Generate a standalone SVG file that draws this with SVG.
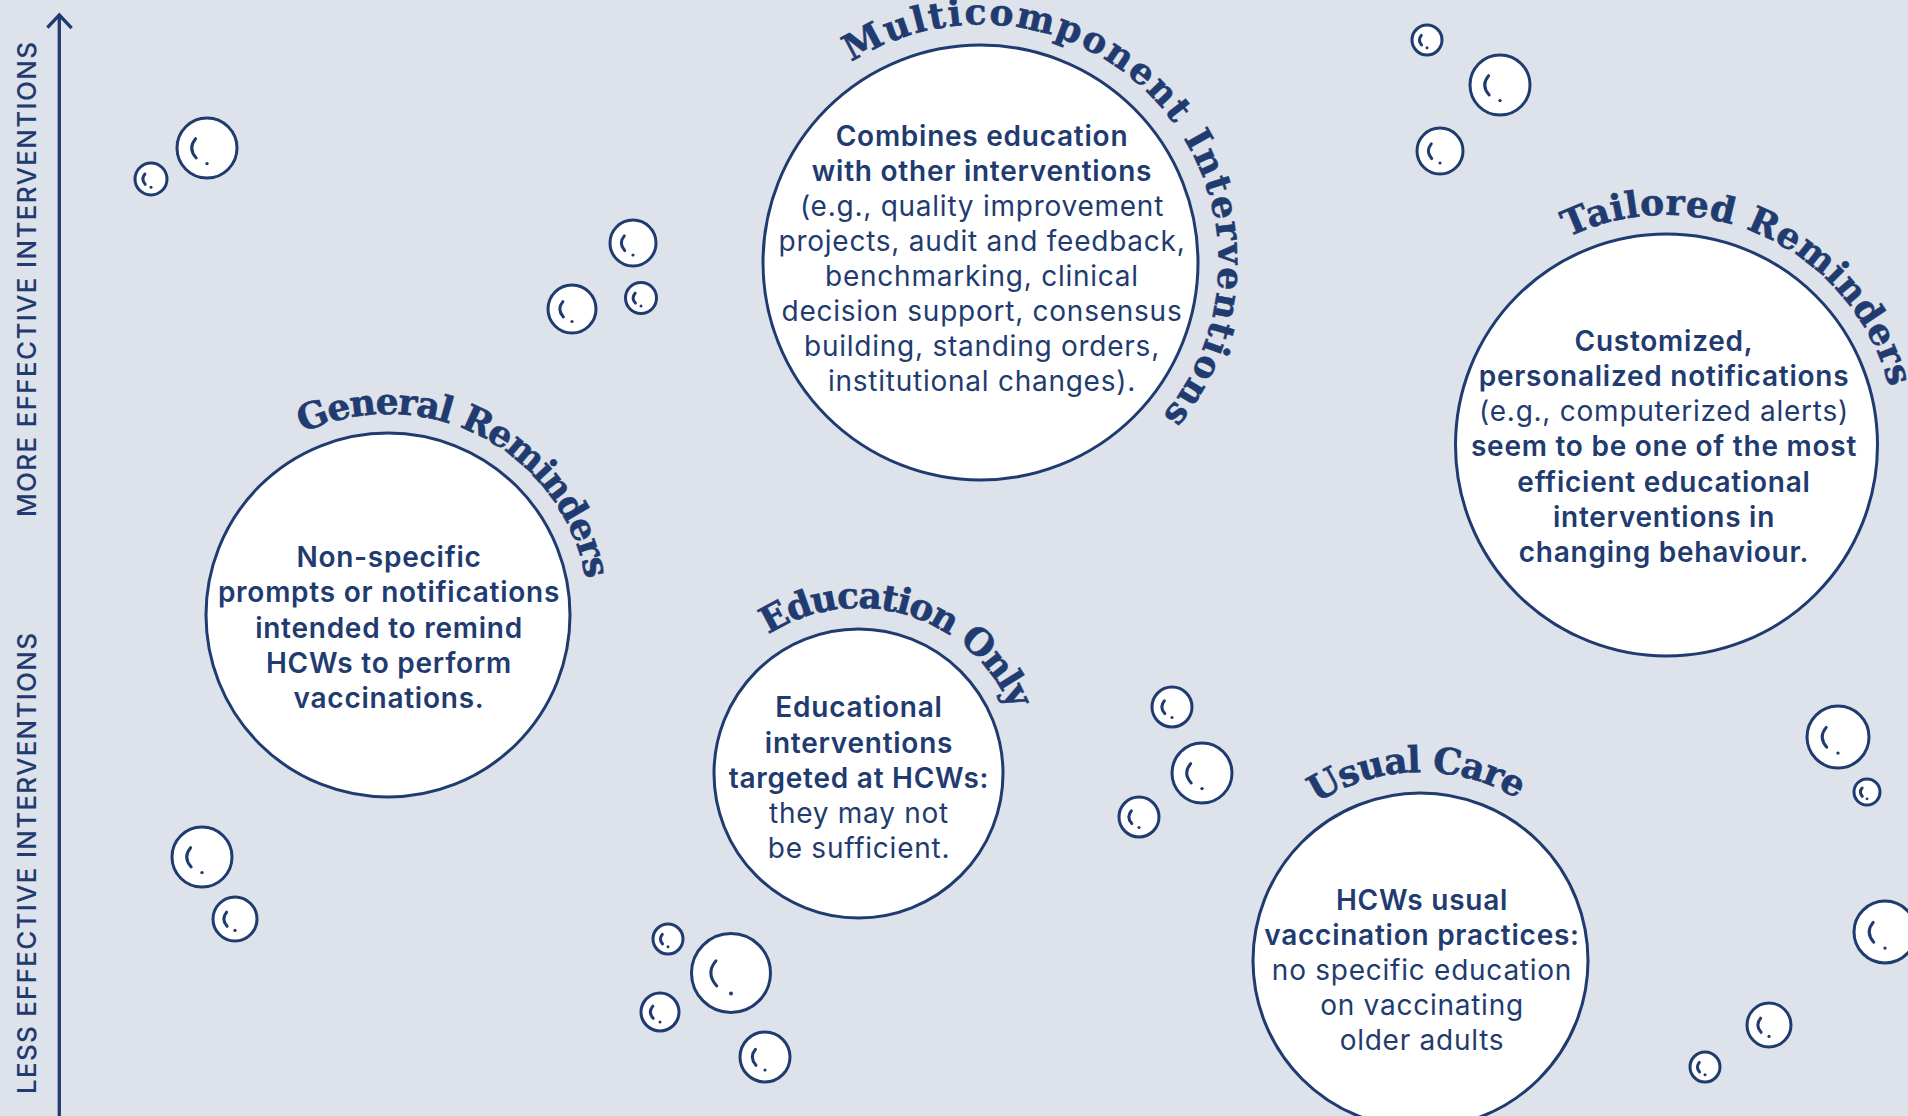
<svg xmlns="http://www.w3.org/2000/svg" width="1908" height="1116" viewBox="0 0 1908 1116">
<defs>
<style>
.bg{fill:#dde2eb}
.node{fill:#fff;stroke:#1f3b6f;stroke-width:3}
.bub{fill:#fff;stroke:#1f3b6f;stroke-width:3}
.hl{fill:none;stroke:#1f3b6f;stroke-width:3;stroke-linecap:round}
.dot{fill:#1f3b6f}
.body{font-family:Inter,"Noto Sans",sans-serif;font-size:28px;letter-spacing:0.75px;fill:#1f3b6f;text-anchor:middle}
.b{font-weight:600}
.r{font-weight:400}
.title{font-family:"DejaVu Serif","Liberation Serif",serif;font-weight:bold;font-size:36px;fill:#1f3b6f;stroke:#1f3b6f;stroke-width:0.6px;text-anchor:middle}
.axis{font-family:Inter,"Noto Sans",sans-serif;font-size:26px;font-weight:500;fill:#1f3b6f;text-anchor:middle}
</style>
<path id="pMulti" d="M 742.5,262.5 A 238 238 0 0 1 1218.5,262.5 A 238 238 0 0 1 980.5,500.5"/>
<path id="pGen" d="M 187,615 A 201 201 0 0 1 589,615 A 201 201 0 0 1 388,816"/>
<path id="pTail" d="M 1436.5,445 A 230 230 0 0 1 1896.5,445 A 230 230 0 0 1 1666.5,675"/>
<path id="pEdu" d="M 693,773.5 A 165.5 165.5 0 0 1 1024,773.5 A 165.5 165.5 0 0 1 858.5,939"/>
<path id="pUsual" d="M 1232,960.5 A 188.5 188.5 0 0 1 1609,960.5 A 188.5 188.5 0 0 1 1420.5,1149"/>
</defs>
<rect class="bg" x="0" y="0" width="1908" height="1116"/>

<g id="axis">
<line x1="59.3" y1="15" x2="59.3" y2="1116" stroke="#1f3b6f" stroke-width="3.3"/>
<polyline points="48.5,26.5 59.3,15 70.5,27" fill="none" stroke="#1f3b6f" stroke-width="3.3" stroke-linecap="square"/>
<text class="axis" transform="translate(36,279.5) rotate(-90)" textLength="475" lengthAdjust="spacing">MORE EFFECTIVE INTERVENTIONS</text>
<text class="axis" transform="translate(36,863.5) rotate(-90)" textLength="461" lengthAdjust="spacing">LESS EFFECTIVE INTERVENTIONS</text>
</g>

<g id="connectors"></g>

<g id="bubbles">
<g><circle class="bub" cx="207" cy="148" r="30"/><path class="hl" d="M195.6,138.7 Q187.5,148.3 196.2,157.9"/><circle class="dot" cx="207" cy="163.6" r="1.7"/></g>
<g><circle class="bub" cx="151" cy="179" r="16"/><path class="hl" d="M144.9,174 Q140.6,179.2 145.2,184.3"/><circle class="dot" cx="151" cy="187.3" r="1.5"/></g>
<g><circle class="bub" cx="633" cy="243" r="23"/><path class="hl" d="M624.3,235.9 Q618.1,243.2 624.7,250.6"/><circle class="dot" cx="633" cy="255" r="1.6"/></g>
<g><circle class="bub" cx="572" cy="309" r="24"/><path class="hl" d="M562.9,301.6 Q556.4,309.2 563.4,316.9"/><circle class="dot" cx="572" cy="321.5" r="1.6"/></g>
<g><circle class="bub" cx="641" cy="298" r="15.5"/><path class="hl" d="M635.1,293.2 Q630.9,298.2 635.4,303.1"/><circle class="dot" cx="641" cy="306.1" r="1.5"/></g>
<g><circle class="bub" cx="1427" cy="40" r="15"/><path class="hl" d="M1421.3,35.4 Q1417.3,40.2 1421.6,45"/><circle class="dot" cx="1427" cy="47.8" r="1.5"/></g>
<g><circle class="bub" cx="1500" cy="85" r="30"/><path class="hl" d="M1488.6,75.7 Q1480.5,85.3 1489.2,94.9"/><circle class="dot" cx="1500" cy="100.6" r="1.7"/></g>
<g><circle class="bub" cx="1440" cy="151" r="23"/><path class="hl" d="M1431.3,143.9 Q1425.1,151.2 1431.7,158.6"/><circle class="dot" cx="1440" cy="163" r="1.6"/></g>
<g><circle class="bub" cx="202" cy="857" r="30"/><path class="hl" d="M190.6,847.7 Q182.5,857.3 191.2,866.9"/><circle class="dot" cx="202" cy="872.6" r="1.7"/></g>
<g><circle class="bub" cx="235" cy="919" r="22"/><path class="hl" d="M226.6,912.2 Q220.7,919.2 227.1,926.3"/><circle class="dot" cx="235" cy="930.4" r="1.6"/></g>
<g><circle class="bub" cx="668" cy="939" r="15"/><path class="hl" d="M662.3,934.4 Q658.3,939.2 662.6,944"/><circle class="dot" cx="668" cy="946.8" r="1.5"/></g>
<g><circle class="bub" cx="731" cy="973" r="39.5"/><path class="hl" d="M716,960.8 Q705.3,973.4 716.8,986"/><circle class="dot" cx="731" cy="993.5" r="2"/></g>
<g><circle class="bub" cx="660" cy="1012" r="19"/><path class="hl" d="M652.8,1006.1 Q647.7,1012.2 653.2,1018.3"/><circle class="dot" cx="660" cy="1021.9" r="1.5"/></g>
<g><circle class="bub" cx="765" cy="1057" r="25"/><path class="hl" d="M755.5,1049.3 Q748.8,1057.3 756,1065.3"/><circle class="dot" cx="765" cy="1070" r="1.6"/></g>
<g><circle class="bub" cx="1172" cy="707" r="20"/><path class="hl" d="M1164.4,700.8 Q1159,707.2 1164.8,713.6"/><circle class="dot" cx="1172" cy="717.4" r="1.5"/></g>
<g><circle class="bub" cx="1202" cy="773" r="30"/><path class="hl" d="M1190.6,763.7 Q1182.5,773.3 1191.2,782.9"/><circle class="dot" cx="1202" cy="788.6" r="1.7"/></g>
<g><circle class="bub" cx="1139" cy="817" r="20"/><path class="hl" d="M1131.4,810.8 Q1126,817.2 1131.8,823.6"/><circle class="dot" cx="1139" cy="827.4" r="1.5"/></g>
<g><circle class="bub" cx="1838" cy="737" r="31"/><path class="hl" d="M1826.2,727.4 Q1817.9,737.3 1826.8,747.2"/><circle class="dot" cx="1838" cy="753.1" r="1.7"/></g>
<g><circle class="bub" cx="1867" cy="792" r="13"/><path class="hl" d="M1862.1,788 Q1858.6,792.1 1862.3,796.3"/><circle class="dot" cx="1867" cy="798.8" r="1.4"/></g>
<g><circle class="bub" cx="1885" cy="932" r="31"/><path class="hl" d="M1873.2,922.4 Q1864.9,932.3 1873.8,942.2"/><circle class="dot" cx="1885" cy="948.1" r="1.7"/></g>
<g><circle class="bub" cx="1769" cy="1025" r="22"/><path class="hl" d="M1760.6,1018.2 Q1754.7,1025.2 1761.1,1032.3"/><circle class="dot" cx="1769" cy="1036.4" r="1.6"/></g>
<g><circle class="bub" cx="1705" cy="1067" r="15"/><path class="hl" d="M1699.3,1062.4 Q1695.3,1067.2 1699.6,1072"/><circle class="dot" cx="1705" cy="1074.8" r="1.5"/></g>
</g>

<g id="multicomponent">
<circle class="node" cx="980.5" cy="262.5" r="217.5"/>
<text class="title"><textPath href="#pMulti" startOffset="575.7" textLength="677" lengthAdjust="spacing">Multicomponent Interventions</textPath></text>
<text class="body b" x="982" y="146">Combines education</text>
<text class="body b" x="982" y="181">with other interventions</text>
<text class="body r" x="982" y="216">(e.g., quality improvement</text>
<text class="body r" x="982" y="251">projects, audit and feedback,</text>
<text class="body r" x="982" y="286">benchmarking, clinical</text>
<text class="body r" x="982" y="321">decision support, consensus</text>
<text class="body r" x="982" y="356">building, standing orders,</text>
<text class="body r" x="982" y="391">institutional changes).</text>
</g>

<g id="general-reminders">
<circle class="node" cx="388" cy="615" r="182"/>
<text class="title"><textPath href="#pGen" startOffset="411.5" textLength="368" lengthAdjust="spacing">General Reminders</textPath></text>
<text class="body b" x="389" y="567">Non-specific</text>
<text class="body b" x="389" y="602">prompts or notifications</text>
<text class="body b" x="389" y="638">intended to remind</text>
<text class="body b" x="389" y="673">HCWs to perform</text>
<text class="body b" x="389" y="708">vaccinations.</text>
</g>

<g id="tailored-reminders">
<circle class="node" cx="1666.5" cy="445" r="211"/>
<text class="title"><textPath href="#pTail" startOffset="461.6" textLength="405" lengthAdjust="spacing">Tailored Reminders</textPath></text>
<text class="body b" x="1664" y="350.5">Customized,</text>
<text class="body b" x="1664" y="385.5">personalized notifications</text>
<text class="body r" x="1664" y="421">(e.g., computerized alerts)</text>
<text class="body b" x="1664" y="456">seem to be one of the most</text>
<text class="body b" x="1664" y="491.5">efficient educational</text>
<text class="body b" x="1664" y="527">interventions in</text>
<text class="body b" x="1664" y="562">changing behaviour.</text>
</g>

<g id="education-only">
<circle class="node" cx="858.5" cy="773.5" r="144.5"/>
<text class="title"><textPath href="#pEdu" startOffset="309.6" textLength="290" lengthAdjust="spacing">Education Only</textPath></text>
<text class="body b" x="859" y="717">Educational</text>
<text class="body b" x="859" y="752.5">interventions</text>
<text class="body b" x="859" y="788">targeted at HCWs:</text>
<text class="body r" x="859" y="823">they may not</text>
<text class="body r" x="859" y="857.5">be sufficient.</text>
</g>

<g id="usual-care">
<circle class="node" cx="1420.5" cy="960.5" r="167.5"/>
<text class="title"><textPath href="#pUsual" startOffset="291.8" textLength="212" lengthAdjust="spacing">Usual Care</textPath></text>
<text class="body b" x="1422" y="910">HCWs usual</text>
<text class="body b" x="1422" y="945">vaccination practices:</text>
<text class="body r" x="1422" y="980">no specific education</text>
<text class="body r" x="1422" y="1015">on vaccinating</text>
<text class="body r" x="1422" y="1050">older adults</text>
</g>
</svg>
